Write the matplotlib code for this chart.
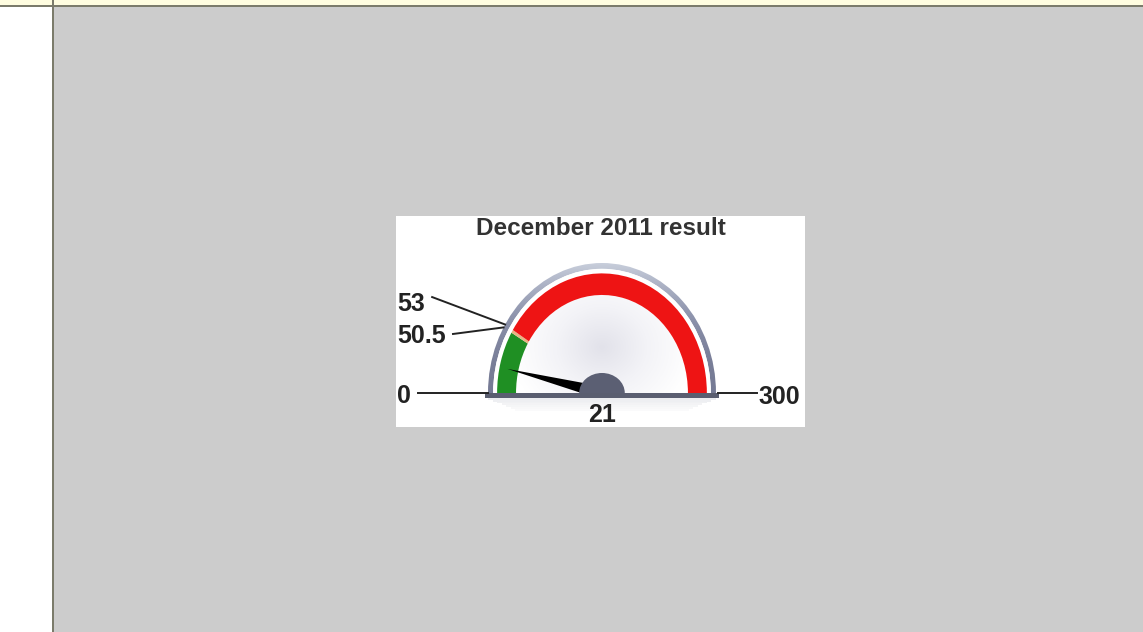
import numpy as np
import matplotlib
matplotlib.use('Agg')
import matplotlib.pyplot as plt
from matplotlib.patches import Wedge, Rectangle, Polygon
from matplotlib.transforms import Affine2D

plt.rcParams['font.family'] = ['Liberation Sans', 'DejaVu Sans']

# gauge data
title = 'December 2011 result'
scale_min, scale_max = 0, 300
ranges = [(0, 50.5), (50.5, 53), (53, 300)]
range_colors = ['#1f8f23', '#e8b382', '#ee1414']
value = 21
left_labels = [53, 50.5, 0]

GREY_BG = '#cccccc'
FRAME = '#7b7b6b'
TEXT = '#222222'


def angle(v):
    # value -> angle in radians, 0 at the left, 300 at the right
    return np.pi * (1 - (v - scale_min) / (scale_max - scale_min))


fig = plt.figure(figsize=(11.43, 6.32), dpi=100, facecolor=GREY_BG)

# page background (pixel coords)
bg = fig.add_axes([0, 0, 1, 1])
bg.set_xlim(0, 1143)
bg.set_ylim(632, 0)
bg.axis('off')
bg.add_patch(Rectangle((0, 0), 52, 632, color='white', lw=0))
bg.add_patch(Rectangle((0, 0), 1143, 5, color='#fffde0', lw=0))
bg.add_patch(Rectangle((0, 5), 1143, 2, color=FRAME, lw=0))
bg.add_patch(Rectangle((52, 0), 2, 632, color=FRAME, lw=0))

# gauge box: white panel at x 396-805, y 216-427 px
W, H = 1143, 632
ax = fig.add_axes([396 / W, 1 - 427 / H, 409 / W, 211 / H])
ax.set_facecolor('white')
ax.set_xticks([])
ax.set_yticks([])
for s in ax.spines.values():
    s.set_visible(False)

# soft shadow under the gauge
for k in range(7):
    ax.add_patch(Rectangle((-1.0 + k * 0.04, -0.038 - (k + 1) * 0.014), 2.0 - k * 0.08, 0.014,
                           color='#8a92a4', alpha=0.16 - k * 0.02, lw=0))

# bezel ring with vertical gradient
ring = Wedge((0, 0), 1.0, 0, 180, width=0.045, lw=0, facecolor='none')
ax.add_patch(ring)
yy = np.linspace(0, 1, 200)[:, None] * np.ones((1, 200))
xx = np.linspace(-1, 1, 200)[None, :] * np.ones((200, 1))
shade = np.clip(0.25 + 0.75 * yy ** 2, 0, 1)
im = ax.imshow(shade, extent=(-1, 1, 0, 1), origin='lower', cmap=matplotlib.colors.LinearSegmentedColormap.from_list(
    'bez', ['#5f637e', '#8d93ac', '#c9cfdc']), vmin=0, vmax=1, zorder=2)
im.set_clip_path(ring)

# white gap + face with radial gradient
ax.add_patch(Wedge((0, 0), 0.955, 0, 180, color='white', lw=0, zorder=2))
face = Wedge((0, 0), 0.754, 0, 180, lw=0, facecolor='none', zorder=3)
ax.add_patch(face)
rr = np.sqrt(xx ** 2 + ((yy - 0.35) * 1.3) ** 2)
fim = ax.imshow(rr, extent=(-1, 1, 0, 1), origin='lower', cmap=matplotlib.colors.LinearSegmentedColormap.from_list(
    'face', ['#e2e2ea', '#f3f3f7', '#ffffff']), vmin=0, vmax=0.8, zorder=3)
fim.set_clip_path(face)
ax.set_xlim(-1.807, 1.781)
ax.set_ylim(-0.2615, 1.3615)
ax.set_aspect('auto')

# colour bands
for (lo, hi), c in zip(ranges, range_colors):
    ax.add_patch(Wedge((0, 0), 0.92, np.degrees(angle(hi)), np.degrees(angle(lo)),
                       width=0.166, color=c, lw=0, zorder=4))

# needle, clipped to the upper half so its root stays above the base bar
a = angle(value)
tip = 0.85
half = 0.05
needle = Polygon([[tip * np.cos(a), tip * np.sin(a)],
                  [half * np.cos(a - np.pi / 2), half * np.sin(a - np.pi / 2)],
                  [half * np.cos(a + np.pi / 2), half * np.sin(a + np.pi / 2)]],
                 closed=True, color='black', lw=0, zorder=4.5)
ax.add_patch(needle)
upper = Rectangle((-1.2, 0), 2.4, 1.2, transform=ax.transData)
needle.set_clip_path(upper)

# base bar
ax.add_patch(Rectangle((-1.03, -0.038), 2.06, 0.038, color='#5a5e70', lw=0, zorder=5))

# hub
hub = Wedge((0, 0), 0.2, 0, 180, color='#5b5f73', lw=0, zorder=7,
            transform=Affine2D().scale(1, 0.77) + ax.transData)
ax.add_patch(hub)

# leader lines and labels on the left
label_pos = {53: (-1.49, 0.738, 0.685), 50.5: (-1.307, 0.454, 0.438), 0: (-1.614, 0.0, -0.023)}
for v in left_labels:
    sx, sy, ty = label_pos[v]
    ex, ey = 1.0 * np.cos(angle(v)), 1.0 * np.sin(angle(v))
    ax.plot([sx, ex], [sy, ey], color='#222222', lw=1.4, zorder=8, clip_on=False)
    ax.text(-1.795, ty, f'{v:g}', ha='left', va='center', fontsize=18,
            fontweight='bold', color=TEXT, zorder=8)

# right end label
ax.plot([1.018, 1.36], [0, 0], color='#222222', lw=1.4, zorder=8)
ax.text(1.377, -0.03, f'{scale_max:g}', ha='left', va='center', fontsize=18,
        fontweight='bold', color=TEXT)

# value label
ax.text(0, -0.17, f'{value:g}', ha='center', va='center', fontsize=18,
        fontweight='bold', color=TEXT, zorder=8)

ax.text(0.501, 0.94, title, transform=ax.transAxes, ha='center', va='center',
        fontsize=17.5, fontweight='bold', color='#333333')

fig.savefig('out.png', dpi=100, facecolor=GREY_BG)
